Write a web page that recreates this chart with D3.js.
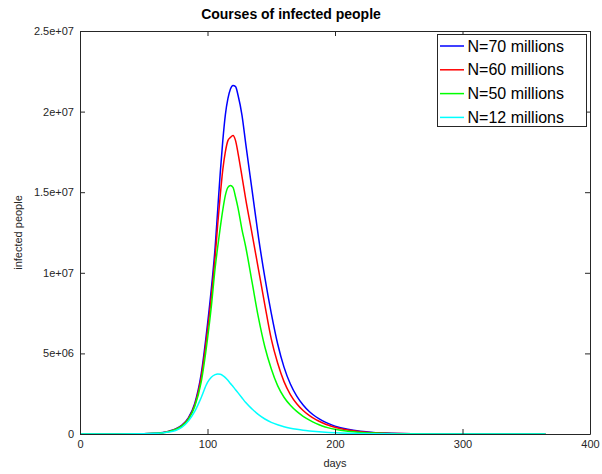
<!DOCTYPE html>
<html>
<head>
<meta charset="utf-8">
<script src="https://cdn.jsdelivr.net/npm/d3@7"></script>
<style>
  html, body { margin: 0; padding: 0; background: #fff; }
  svg { display: block; font-family: "Liberation Sans", Arial, Helvetica, sans-serif; }
</style>
</head>
<body>
<svg id="chart" width="602" height="474"></svg>
<script>
// Simulated epidemic curves: number of infected people per day for four population sizes
const days = [0, 30, 50, 60, 65, 70, 75, 80, 85, 90, 95, 100, 103, 106, 108, 110, 112, 114, 116, 118,
  120, 122, 124, 127, 130, 135, 140, 145, 150, 155, 160, 165, 170, 175, 180, 185, 190, 195, 200,
  210, 220, 230, 240, 250, 260, 280, 300, 330, 365];

const infected70 = [0, 2e3, 1.5e4, 5e4, 9e4, 1.8e5, 3.2e5, 5.6e5, 1.0e6, 1.9e6, 3.7e6, 6.8e6, 9.0e6, 1.16e7, 1.39e7, 1.62e7, 1.82e7, 1.98e7, 2.08e7, 2.14e7,
  2.162e7, 2.155e7, 2.10e7, 1.98e7, 1.80e7, 1.51e7, 1.22e7, 9.7e6, 7.5e6, 5.6e6, 4.15e6, 3.1e6, 2.35e6, 1.8e6, 1.38e6, 1.07e6, 8.3e5, 6.4e5, 4.9e5,
  2.9e5, 1.7e5, 1.0e5, 6e4, 3.6e4, 2.1e4, 7.5e3, 2.6e3, 500, 50];

const infected60 = [0, 2e3, 1.4e4, 4.5e4, 8.5e4, 1.7e5, 3.0e5, 5.3e5, 9.5e5, 1.8e6, 3.5e6, 6.4e6, 8.5e6, 1.10e7, 1.30e7, 1.48e7, 1.64e7, 1.75e7, 1.82e7, 1.84e7,
  1.852e7, 1.82e7, 1.74e7, 1.60e7, 1.455e7, 1.24e7, 1.02e7, 8.0e6, 5.9e6, 4.4e6, 3.25e6, 2.45e6, 1.88e6, 1.46e6, 1.14e6, 8.9e5, 7.0e5, 5.4e5, 4.2e5,
  2.5e5, 1.45e5, 8.5e4, 5e4, 3e4, 1.8e4, 6.5e3, 2.2e3, 450, 40];

const infected50 = [0, 1.5e3, 1.2e4, 4e4, 8e4, 1.6e5, 2.8e5, 5e5, 9e5, 1.7e6, 3.2e6, 5.9e6, 7.9e6, 1.03e7, 1.16e7, 1.28e7, 1.39e7, 1.48e7, 1.53e7, 1.542e7,
  1.53e7, 1.47e7, 1.40e7, 1.27e7, 1.16e7, 9.4e6, 7.2e6, 5.4e6, 4.05e6, 3.0e6, 2.28e6, 1.78e6, 1.4e6, 1.1e6, 8.6e5, 6.6e5, 5.0e5, 3.8e5, 2.9e5,
  1.7e5, 1.0e5, 6e4, 3.5e4, 2.1e4, 1.25e4, 4.5e3, 1.5e3, 300, 30];

const infected12 = [0, 1.5e3, 1.2e4, 4e4, 7e4, 1.2e5, 2.2e5, 4.2e5, 8e5, 1.4e6, 2.25e6, 3.2e6, 3.52e6, 3.68e6, 3.72e6, 3.71e6, 3.62e6, 3.5e6, 3.33e6, 3.13e6,
  2.95e6, 2.75e6, 2.55e6, 2.25e6, 1.95e6, 1.55e6, 1.2e6, 9.3e5, 7.2e5, 5.7e5, 4.5e5, 3.6e5, 2.9e5, 2.3e5, 1.85e5, 1.48e5, 1.18e5, 9.4e4, 7.5e4,
  4.8e4, 3e4, 1.9e4, 1.2e4, 7.5e3, 4.7e3, 1.8e3, 700, 150, 20];

const seriesNames = ["N=70 millions", "N=60 millions", "N=50 millions", "N=12 millions"];
const seriesColors = ["#0000ff", "#ff0000", "#00ff00", "#00ffff"];
const seriesValues = [infected70, infected60, infected50, infected12];

const xTicks = [0, 100, 200, 300, 400];
const yTicks = [0, 5e6, 1e7, 1.5e7, 2e7, 2.5e7];
const yTickLabels = ["0", "5e+06", "1e+07", "1.5e+07", "2e+07", "2.5e+07"];

const svg = d3.select("#chart");
const plotLeft = 80, plotRight = 590, plotTop = 31, plotBottom = 434;
const axisColor = "#262626";

const x = d3.scaleLinear().domain([0, 400]).range([plotLeft, plotRight]);
const y = d3.scaleLinear().domain([0, 2.5e7]).range([plotBottom, plotTop]);

// clip curves to the plotting box
svg.append("defs").append("clipPath").attr("id", "plotClip")
  .append("rect").attr("x", plotLeft).attr("y", plotTop)
  .attr("width", plotRight - plotLeft).attr("height", plotBottom - plotTop);

const line = d3.line()
  .x((d, i) => x(days[i]))
  .y(d => y(d))
  .curve(d3.curveMonotoneX);

const curves = svg.append("g").attr("clip-path", "url(#plotClip)");
seriesValues.forEach((vals, k) => {
  curves.append("path")
    .datum(vals)
    .attr("fill", "none")
    .attr("stroke", seriesColors[k])
    .attr("stroke-width", 1.5)
    .attr("d", line);
});

// axes on all four sides, ticks pointing inward
function styleAxis(g) {
  g.selectAll(".domain").attr("stroke", axisColor);
  g.selectAll(".tick line").attr("stroke", axisColor);
  g.selectAll(".tick text").attr("fill", axisColor).style("font-size", "11px")
    .style("font-family", "'Liberation Sans', Arial, sans-serif");
}

svg.append("g").attr("transform", `translate(0,${plotBottom})`)
  .call(d3.axisBottom(x).tickValues(xTicks).tickSize(-5).tickSizeOuter(0).tickPadding(6).tickFormat(d3.format("d")))
  .call(styleAxis);
svg.append("g").attr("transform", `translate(0,${plotTop})`)
  .call(d3.axisTop(x).tickValues(xTicks).tickSize(-5).tickSizeOuter(0).tickFormat(""))
  .call(styleAxis);
svg.append("g").attr("transform", `translate(${plotLeft},0)`)
  .call(d3.axisLeft(y).tickValues(yTicks).tickSize(-5).tickSizeOuter(0).tickPadding(6)
    .tickFormat((d, i) => yTickLabels[i]))
  .call(styleAxis);
svg.append("g").attr("transform", `translate(${plotRight},0)`)
  .call(d3.axisRight(y).tickValues(yTicks).tickSize(-5).tickSizeOuter(0).tickFormat(""))
  .call(styleAxis);

// titles
svg.append("text")
  .attr("x", 291).attr("y", 19)
  .attr("text-anchor", "middle")
  .attr("fill", "#000")
  .style("font-size", "14px").style("font-weight", "bold")
  .text("Courses of infected people");

svg.append("text")
  .attr("x", (plotLeft + plotRight) / 2).attr("y", 467)
  .attr("text-anchor", "middle")
  .attr("fill", axisColor)
  .style("font-size", "11px")
  .text("days");

svg.append("text")
  .attr("transform", `translate(22,${(plotTop + plotBottom) / 2}) rotate(-90)`)
  .attr("text-anchor", "middle")
  .attr("fill", axisColor)
  .style("font-size", "11px")
  .text("infected people");

// legend
const legend = svg.append("g");
legend.append("rect")
  .attr("x", 437.5).attr("y", 34.5).attr("width", 149).attr("height", 92)
  .attr("fill", "#fff").attr("stroke", axisColor).attr("stroke-width", 1);
seriesNames.forEach((name, k) => {
  const cy = 46 + k * 23.8;
  legend.append("line")
    .attr("x1", 440).attr("x2", 464).attr("y1", cy).attr("y2", cy)
    .attr("stroke", seriesColors[k]).attr("stroke-width", 1.5);
  legend.append("text")
    .attr("x", 467.5).attr("y", cy + 5.5)
    .attr("fill", "#000")
    .style("font-size", "16px")
    .text(name);
});
</script>
</body>
</html>
